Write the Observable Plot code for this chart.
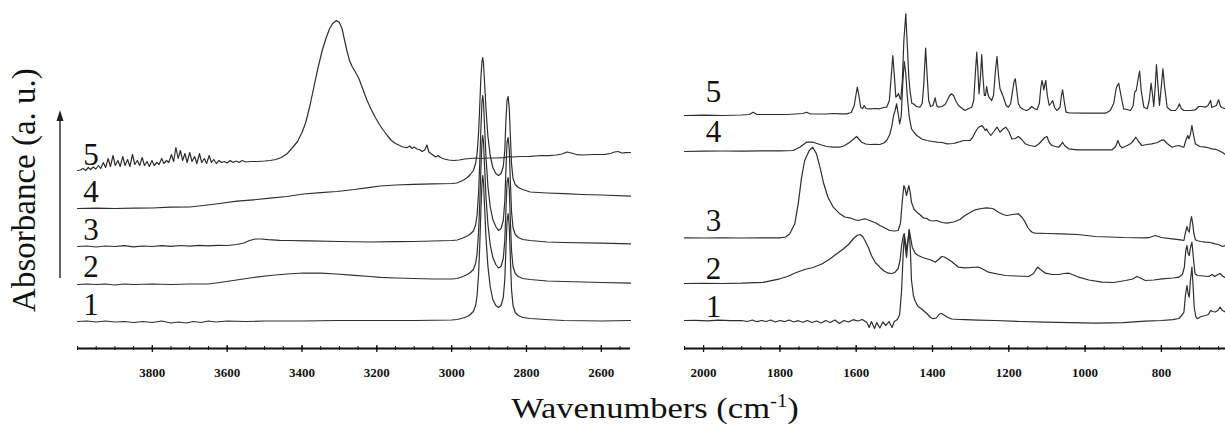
<!DOCTYPE html>
<html>
<head>
<meta charset="utf-8">
<script src="https://cdn.jsdelivr.net/npm/d3@7"></script>
<script src="https://cdn.jsdelivr.net/npm/@observablehq/plot@0.6"></script>
<style>
  html, body { margin: 0; padding: 0; background: #fff; }
  #wrap { position: relative; width: 1225px; height: 430px; overflow: hidden; background: #fff; font-family: "Liberation Serif", "Times New Roman", serif; }
  #left { position: absolute; left: 0; top: 0; }
  #right { position: absolute; left: 640px; top: 0; }
  #ylabel { position: absolute; left: -126px; top: 170px; width: 300px; height: 40px; line-height: 40px; text-align: center; font-size: 33px; color: #111; transform: rotate(-90deg); white-space: nowrap; }
  #xlabel { position: absolute; left: 455px; top: 390px; width: 400px; height: 36px; line-height: 36px; text-align: center; font-size: 30px; color: #111; transform: scaleX(1.15); white-space: nowrap; }
  #xlabel sup { font-size: 0.6em; vertical-align: 0.62em; line-height: 0; }
  #arrow { position: absolute; left: 0; top: 0; }
  svg text { font-family: "Liberation Serif", "Times New Roman", serif; }
</style>
</head>
<body>
<div id="wrap">
  <div id="left"></div>
  <div id="right"></div>
  <div id="ylabel">Absorbance (a. u.)</div>
  <svg id="arrow" width="80" height="300"><line x1="60" y1="278" x2="60" y2="118" stroke="#222" stroke-width="1.4"/><polygon points="60,110 56.5,121 63.5,121" fill="#222"/></svg>
  <div id="xlabel">Wavenumbers (cm<sup>-1</sup>)</div>
</div>
<script>
// ---------- spectrum labels and offsets ----------
const seriesNames = ["1", "2", "3", "4", "5"];
const leftOffsets = [0.27, 0.64, 1.02, 1.40, 1.78];
const rightOffsets = [0.28, 0.65, 1.10, 1.97, 2.33];
const leftLabelY = [0.337, 0.713, 1.09, 1.463, 1.84];
const rightLabelY = [0.32, 0.697, 1.18, 2.063, 2.463];
const leftLabelWn = 3964;
const rightLabelWn = 1974;

// ---------- tick labels ----------
const leftTickLabels = [3800, 3600, 3400, 3200, 3000, 2800, 2600];
const rightTickLabels = [2000, 1800, 1600, 1400, 1200, 1000, 800];

// ---------- left panel spectra (4000 - 2520 cm-1), [wavenumber, absorbance above baseline] ----------
const left1 = [[4000,0],[3975,0.005],[3950,-0.005],[3925,0.005],[3900,-0.005],[3875,0],[3850,-0.01],[3825,0],[3800,-0.01],[3775,0.005],[3750,-0.015],[3730,-0.005],[3710,-0.015],[3690,0],[3670,-0.01],[3650,0.005],[3630,-0.005],[3600,0.005],[3550,0],[3500,0.005],[3400,0.005],[3300,0.01],[3200,0.01],[3100,0.01],[3000,0.015],[2985,0.02],[2970,0.035],[2958,0.05],[2950,0.07],[2942,0.1],[2936,0.16],[2932,0.26],[2928,0.48],[2925,0.75],[2922,1.1],[2919,1.38],[2917,1.46],[2915,1.4],[2912,1.15],[2908,0.82],[2903,0.55],[2897,0.35],[2890,0.22],[2882,0.16],[2875,0.14],[2868,0.16],[2862,0.24],[2858,0.42],[2855,0.72],[2852,1.0],[2849,1.08],[2846,0.95],[2843,0.62],[2840,0.32],[2836,0.16],[2830,0.09],[2822,0.06],[2810,0.04],[2790,0.03],[2750,0.02],[2700,0.01],[2600,0.005],[2522,0.01]];
const left2 = [[4000,0],[3975,0.005],[3950,0],[3925,0.005],[3900,-0.005],[3875,0.005],[3850,0],[3800,0.005],[3750,0],[3700,0.005],[3650,0.005],[3620,0.02],[3575,0.045],[3530,0.07],[3485,0.09],[3440,0.105],[3396,0.115],[3350,0.113],[3307,0.105],[3260,0.092],[3218,0.08],[3190,0.072],[3150,0.065],[3100,0.06],[3050,0.055],[3000,0.055],[2985,0.06],[2970,0.08],[2958,0.1],[2950,0.12],[2942,0.15],[2936,0.21],[2932,0.31],[2928,0.53],[2925,0.8],[2922,1.15],[2919,1.42],[2917,1.49],[2915,1.43],[2912,1.18],[2908,0.86],[2903,0.6],[2897,0.4],[2890,0.27],[2882,0.2],[2875,0.165],[2868,0.18],[2862,0.26],[2858,0.44],[2855,0.74],[2852,1.02],[2849,1.07],[2846,0.95],[2843,0.63],[2840,0.34],[2836,0.18],[2830,0.11],[2822,0.08],[2810,0.06],[2790,0.05],[2745,0.035],[2700,0.03],[2600,0.02],[2522,0.013]];
const left3 = [[4000,0],[3975,0.005],[3950,-0.005],[3925,0.005],[3900,0],[3875,0.008],[3850,-0.003],[3825,0.005],[3800,0],[3775,0.008],[3750,0.002],[3725,0.01],[3700,0.004],[3675,0.012],[3650,0.006],[3625,0.012],[3600,0.01],[3575,0.02],[3555,0.035],[3540,0.06],[3525,0.075],[3510,0.075],[3490,0.068],[3460,0.062],[3440,0.06],[3380,0.056],[3300,0.05],[3218,0.045],[3150,0.048],[3100,0.05],[3050,0.055],[3000,0.06],[2985,0.065],[2970,0.085],[2958,0.105],[2950,0.125],[2942,0.155],[2936,0.215],[2932,0.315],[2928,0.54],[2925,0.82],[2922,1.17],[2919,1.44],[2917,1.51],[2915,1.45],[2912,1.2],[2908,0.88],[2903,0.6],[2897,0.4],[2890,0.27],[2882,0.2],[2875,0.16],[2868,0.18],[2862,0.26],[2858,0.45],[2855,0.76],[2852,1.04],[2849,1.09],[2846,0.97],[2843,0.64],[2840,0.35],[2836,0.19],[2830,0.12],[2822,0.09],[2810,0.07],[2790,0.06],[2745,0.045],[2700,0.04],[2600,0.033],[2522,0.027]];
const left4 = [[4000,0],[3950,0.003],[3900,0],[3850,0.003],[3800,0.005],[3752,0.013],[3700,0.015],[3664,0.03],[3620,0.05],[3574,0.073],[3530,0.087],[3485,0.103],[3440,0.12],[3396,0.145],[3350,0.158],[3307,0.17],[3260,0.19],[3218,0.212],[3191,0.225],[3150,0.235],[3102,0.242],[3050,0.247],[3000,0.25],[2986,0.255],[2970,0.28],[2958,0.31],[2950,0.34],[2942,0.38],[2936,0.45],[2932,0.55],[2928,0.76],[2925,1.02],[2922,1.3],[2919,1.47],[2917,1.51],[2915,1.46],[2912,1.26],[2908,0.98],[2903,0.72],[2897,0.53],[2890,0.41],[2882,0.35],[2875,0.33],[2868,0.35],[2862,0.42],[2858,0.58],[2855,0.88],[2852,1.08],[2849,1.12],[2846,1.0],[2843,0.72],[2840,0.45],[2836,0.3],[2830,0.24],[2822,0.21],[2810,0.19],[2790,0.165],[2745,0.155],[2700,0.148],[2650,0.14],[2600,0.135],[2522,0.123]];
const left5 = [[4000,0],[3992,0.005],[3985,0.02],[3978,0],[3971,0.03],[3965,0.01],[3958,0.035],[3951,0.015],[3944,0.05],[3938,0.02],[3931,0.08],[3925,0.03],[3918,0.12],[3912,0.04],[3905,0.15],[3899,0.05],[3892,0.1],[3886,0.04],[3879,0.14],[3873,0.05],[3866,0.11],[3860,0.04],[3853,0.16],[3847,0.06],[3840,0.1],[3834,0.05],[3827,0.13],[3821,0.05],[3814,0.09],[3808,0.04],[3801,0.1],[3795,0.05],[3788,0.08],[3782,0.06],[3775,0.12],[3769,0.07],[3762,0.1],[3756,0.08],[3749,0.16],[3743,0.09],[3737,0.23],[3731,0.12],[3725,0.2],[3719,0.1],[3713,0.17],[3707,0.08],[3700,0.18],[3694,0.09],[3687,0.14],[3681,0.07],[3674,0.17],[3668,0.08],[3661,0.12],[3655,0.07],[3648,0.15],[3642,0.08],[3636,0.11],[3629,0.07],[3622,0.1],[3615,0.08],[3608,0.09],[3600,0.075],[3592,0.1],[3584,0.08],[3576,0.095],[3568,0.08],[3560,0.1],[3550,0.085],[3535,0.09],[3520,0.09],[3500,0.095],[3485,0.1],[3470,0.11],[3455,0.13],[3440,0.167],[3425,0.23],[3412,0.29],[3400,0.38],[3390,0.48],[3378,0.66],[3368,0.84],[3357,1.03],[3346,1.2],[3335,1.33],[3326,1.42],[3318,1.47],[3308,1.5],[3300,1.48],[3293,1.42],[3286,1.3],[3280,1.2],[3273,1.1],[3266,1.04],[3258,0.99],[3248,0.92],[3237,0.81],[3226,0.7],[3215,0.61],[3204,0.53],[3193,0.46],[3182,0.4],[3171,0.345],[3161,0.3],[3150,0.27],[3139,0.25],[3130,0.235],[3120,0.228],[3112,0.245],[3106,0.22],[3100,0.235],[3093,0.215],[3086,0.21],[3079,0.19],[3072,0.205],[3066,0.255],[3061,0.185],[3052,0.16],[3043,0.135],[3036,0.15],[3030,0.13],[3020,0.115],[3008,0.105],[2995,0.1],[2980,0.105],[2965,0.115],[2950,0.12],[2935,0.125],[2920,0.12],[2900,0.125],[2880,0.125],[2860,0.128],[2845,0.14],[2835,0.135],[2820,0.14],[2790,0.142],[2760,0.15],[2740,0.148],[2720,0.155],[2705,0.165],[2692,0.185],[2680,0.175],[2665,0.158],[2650,0.155],[2620,0.16],[2590,0.162],[2575,0.17],[2565,0.185],[2555,0.19],[2545,0.175],[2535,0.178],[2522,0.18]];

// ---------- right panel spectra (2050 - 632 cm-1) ----------
const right1 = [[2050,0],[2020,0.002],[1990,-0.003],[1960,0.003],[1930,-0.002],[1900,0],[1885,-0.01],[1872,0.005],[1860,-0.012],[1848,0],[1836,-0.01],[1824,0.005],[1812,-0.015],[1800,0],[1788,-0.012],[1776,0.005],[1764,-0.015],[1752,-0.002],[1740,-0.018],[1728,0],[1716,-0.02],[1704,-0.005],[1692,-0.025],[1680,0],[1668,-0.02],[1656,0.005],[1644,-0.03],[1632,0],[1620,-0.015],[1608,0.008],[1596,-0.005],[1584,0.01],[1572,-0.02],[1566,-0.07],[1560,-0.01],[1552,-0.08],[1546,-0.02],[1538,-0.075],[1530,-0.015],[1522,-0.05],[1514,-0.01],[1506,-0.07],[1500,-0.01],[1492,0.01],[1486,0.06],[1481,0.3],[1477,0.65],[1474,0.85],[1471,0.72],[1468,0.63],[1465,0.75],[1461,0.91],[1458,0.7],[1455,0.4],[1450,0.25],[1446,0.2],[1438,0.14],[1430,0.12],[1424,0.1],[1415,0.07],[1405,0.03],[1398,0.018],[1390,0.025],[1382,0.065],[1376,0.07],[1370,0.055],[1362,0.035],[1350,0.015],[1330,0.01],[1315,0.008],[1280,0.003],[1236,0],[1170,-0.01],[1104,-0.017],[1040,-0.022],[973,-0.027],[900,-0.022],[842,-0.007],[800,0],[770,0.008],[754,0.02],[745,0.06],[741,0.083],[737,0.25],[733,0.35],[730,0.27],[727,0.233],[724,0.4],[720,0.533],[717,0.35],[714,0.13],[710,0.04],[706,0.018],[696,0.04],[685,0.05],[677,0.06],[671,0.1],[666,0.09],[659,0.085],[652,0.1],[646,0.133],[640,0.1],[632,0.085]];
const right2 = [[2050,0],[2000,0.002],[1950,0],[1900,0.003],[1844,0.012],[1800,0.047],[1780,0.07],[1757,0.11],[1735,0.14],[1713,0.16],[1690,0.195],[1669,0.245],[1650,0.3],[1634,0.345],[1620,0.39],[1608,0.445],[1598,0.48],[1590,0.49],[1583,0.47],[1577,0.43],[1568,0.36],[1560,0.28],[1550,0.21],[1538,0.163],[1527,0.125],[1516,0.103],[1506,0.1],[1498,0.113],[1490,0.15],[1485,0.23],[1481,0.38],[1477,0.47],[1474,0.5],[1471,0.42],[1468,0.33],[1464,0.45],[1461,0.537],[1457,0.45],[1453,0.363],[1445,0.3],[1437,0.28],[1426,0.26],[1415,0.247],[1404,0.235],[1393,0.213],[1384,0.24],[1376,0.27],[1369,0.265],[1362,0.25],[1350,0.22],[1332,0.163],[1315,0.157],[1298,0.16],[1285,0.163],[1280,0.165],[1270,0.147],[1253,0.113],[1230,0.095],[1209,0.08],[1180,0.075],[1148,0.07],[1135,0.1],[1128,0.145],[1124,0.163],[1117,0.14],[1104,0.103],[1086,0.09],[1069,0.09],[1055,0.1],[1043,0.103],[1030,0.085],[1017,0.063],[990,0.035],[956,0.013],[925,0.01],[894,0.03],[875,0.045],[864,0.07],[855,0.055],[842,0.03],[820,0.035],[798,0.047],[770,0.055],[754,0.063],[745,0.09],[740,0.16],[736,0.33],[733,0.38],[730,0.3],[727,0.28],[724,0.36],[720,0.413],[716,0.25],[712,0.1],[706,0.08],[690,0.075],[676,0.07],[667,0.09],[660,0.07],[654,0.085],[646,0.1],[640,0.075],[632,0.057]];
const right3 = [[2050,0.007],[2000,0.005],[1950,0.007],[1900,0.005],[1850,0.007],[1800,0.007],[1785,0.015],[1774,0.047],[1761,0.147],[1752,0.347],[1743,0.613],[1735,0.78],[1723,0.88],[1714,0.913],[1704,0.847],[1695,0.713],[1685,0.547],[1674,0.413],[1660,0.313],[1643,0.247],[1630,0.215],[1617,0.207],[1605,0.19],[1595,0.18],[1585,0.19],[1577,0.197],[1568,0.185],[1560,0.173],[1548,0.155],[1538,0.13],[1525,0.105],[1512,0.08],[1500,0.075],[1490,0.08],[1484,0.15],[1479,0.38],[1475,0.53],[1472,0.5],[1468,0.43],[1465,0.48],[1462,0.53],[1458,0.45],[1455,0.363],[1448,0.29],[1441,0.263],[1432,0.235],[1424,0.207],[1415,0.2],[1407,0.18],[1398,0.175],[1389,0.18],[1375,0.16],[1362,0.153],[1345,0.165],[1328,0.19],[1315,0.23],[1300,0.262],[1288,0.287],[1272,0.3],[1258,0.307],[1242,0.3],[1227,0.263],[1215,0.24],[1205,0.23],[1190,0.24],[1175,0.247],[1165,0.21],[1157,0.163],[1150,0.11],[1144,0.08],[1138,0.06],[1131,0.053],[1100,0.05],[1061,0.047],[1020,0.04],[973,0.02],[900,0.01],[842,0.007],[830,0.012],[816,0.03],[800,0.01],[772,-0.003],[750,-0.013],[741,-0.02],[737,0.06],[733,0.12],[730,0.08],[727,0.063],[724,0.16],[721,0.22],[718,0.15],[715,0.05],[711,-0.01],[708,-0.02],[697,-0.03],[685,-0.037],[672,-0.04],[659,-0.053],[650,-0.06],[640,-0.08],[632,-0.07]];
const right4 = [[2050,0],[2000,0.003],[1950,0.005],[1900,0.003],[1850,0.007],[1800,0.007],[1765,0.01],[1748,0.043],[1730,0.093],[1713,0.093],[1695,0.07],[1678,0.05],[1660,0.043],[1643,0.043],[1630,0.06],[1617,0.093],[1605,0.13],[1599,0.15],[1592,0.12],[1586,0.093],[1575,0.075],[1564,0.07],[1550,0.072],[1538,0.07],[1528,0.085],[1520,0.11],[1512,0.17],[1507,0.243],[1502,0.36],[1498,0.41],[1494,0.477],[1490,0.38],[1486,0.277],[1482,0.35],[1478,0.677],[1474,0.9],[1470,0.78],[1466,0.55],[1461,0.35],[1455,0.227],[1448,0.19],[1441,0.16],[1428,0.125],[1415,0.11],[1400,0.1],[1389,0.093],[1375,0.09],[1362,0.077],[1345,0.08],[1332,0.093],[1319,0.11],[1302,0.11],[1295,0.14],[1288,0.193],[1280,0.24],[1271,0.26],[1266,0.24],[1262,0.21],[1258,0.225],[1255,0.2],[1247,0.16],[1239,0.2],[1231,0.243],[1227,0.22],[1223,0.193],[1215,0.225],[1208,0.243],[1200,0.2],[1192,0.127],[1183,0.13],[1175,0.15],[1166,0.12],[1157,0.077],[1145,0.06],[1131,0.05],[1120,0.08],[1113,0.11],[1106,0.14],[1100,0.15],[1094,0.09],[1087,0.06],[1078,0.05],[1069,0.043],[1063,0.07],[1059,0.093],[1054,0.06],[1043,0.027],[1020,0.017],[990,0.017],[960,0.017],[929,0.017],[920,0.05],[914,0.11],[909,0.06],[903,0.037],[890,0.06],[881,0.077],[873,0.11],[867,0.143],[860,0.1],[851,0.06],[838,0.07],[825,0.077],[810,0.09],[800,0.113],[794,0.117],[785,0.08],[772,0.043],[762,0.055],[754,0.06],[745,0.045],[741,0.043],[737,0.1],[731,0.16],[728,0.127],[724,0.17],[720,0.26],[716,0.17],[711,0.077],[700,0.05],[685,0.043],[675,0.035],[667,0.027],[658,0.022],[650,0.01],[640,-0.01],[632,-0.03]];
const right5 = [[2050,0],[2000,0.003],[1950,0],[1900,0.005],[1880,0.01],[1870,0.033],[1860,0.01],[1820,0.01],[1780,0.01],[1740,0.02],[1730,0.033],[1720,0.015],[1680,0.015],[1660,0.02],[1640,0.017],[1625,0.017],[1613,0.03],[1605,0.1],[1600,0.22],[1597,0.283],[1593,0.2],[1588,0.08],[1583,0.07],[1579,0.1],[1574,0.07],[1564,0.067],[1550,0.07],[1538,0.067],[1528,0.08],[1520,0.083],[1513,0.15],[1508,0.4],[1504,0.6],[1500,0.4],[1496,0.183],[1492,0.2],[1489,0.22],[1486,0.18],[1483,0.16],[1479,0.35],[1475,0.75],[1470,1.017],[1466,0.7],[1462,0.38],[1459,0.25],[1454,0.12],[1450,0.117],[1442,0.09],[1433,0.083],[1427,0.12],[1423,0.3],[1418,0.673],[1414,0.4],[1410,0.15],[1405,0.09],[1399,0.1],[1393,0.177],[1389,0.1],[1385,0.083],[1375,0.09],[1367,0.11],[1360,0.16],[1355,0.2],[1350,0.217],[1345,0.2],[1338,0.14],[1332,0.1],[1322,0.07],[1315,0.05],[1305,0.07],[1297,0.083],[1292,0.15],[1288,0.4],[1284,0.633],[1281,0.45],[1278,0.217],[1274,0.4],[1271,0.61],[1268,0.4],[1264,0.2],[1261,0.2],[1258,0.29],[1255,0.22],[1252,0.183],[1245,0.15],[1240,0.2],[1235,0.45],[1231,0.59],[1227,0.4],[1223,0.267],[1219,0.23],[1214,0.183],[1207,0.1],[1201,0.083],[1195,0.12],[1190,0.25],[1186,0.34],[1183,0.367],[1179,0.25],[1175,0.12],[1170,0.083],[1162,0.06],[1153,0.05],[1146,0.065],[1140,0.09],[1133,0.07],[1126,0.057],[1120,0.12],[1116,0.28],[1113,0.35],[1110,0.3],[1108,0.257],[1105,0.32],[1103,0.35],[1099,0.2],[1094,0.1],[1090,0.12],[1085,0.15],[1080,0.08],[1074,0.05],[1066,0.08],[1062,0.2],[1059,0.257],[1055,0.15],[1050,0.033],[1040,0.025],[1000,0.023],[960,0.023],[946,0.023],[934,0.05],[925,0.12],[918,0.28],[912,0.323],[906,0.2],[899,0.067],[890,0.06],[881,0.05],[874,0.1],[870,0.233],[866,0.25],[861,0.367],[857,0.443],[853,0.25],[846,0.083],[837,0.067],[832,0.15],[827,0.323],[823,0.2],[820,0.09],[816,0.3],[813,0.51],[809,0.3],[805,0.1],[800,0.3],[796,0.467],[792,0.3],[785,0.083],[775,0.05],[763,0.05],[757,0.08],[753,0.117],[748,0.07],[741,0.05],[725,0.05],[711,0.057],[702,0.09],[694,0.09],[685,0.083],[678,0.1],[671,0.15],[668,0.08],[662,0.09],[656,0.1],[650,0.157],[645,0.09],[640,0.077],[632,0.067]];

const leftSeries = [left1, left2, left3, left4, left5];
const rightSeries = [right1, right2, right3, right4, right5];

const serif = "'Liberation Serif', 'Times New Roman', serif";

function panel({width, marginLeft, marginRight, domain, series, offsets, labelY, labelWn, tickLabels, minorStep}) {
  const rows = [];
  series.forEach((s, i) => s.forEach(([wn, a]) => rows.push({wn, a: a + offsets[i], name: seriesNames[i]})));
  const labels = seriesNames.map((n, i) => ({name: n, wn: labelWn, a: labelY[i]}));
  const minor = d3.range(domain[0], domain[1] - 1, -minorStep);
  return Plot.plot({
    width, height: 390,
    marginTop: 0, marginBottom: 42, marginLeft, marginRight,
    style: {fontFamily: serif, background: "transparent", overflow: "visible"},
    x: {domain, axis: null},
    y: {domain: [0, 3.48], axis: null},
    marks: [
      Plot.line(rows, {x: "wn", y: "a", z: "name", stroke: "#2e2e2e", strokeWidth: 1.2, curve: "linear"}),
      Plot.ruleY([0], {stroke: "#111", strokeWidth: 2}),
      Plot.axisX({ticks: minor, tickSize: 4, dy: -2, fill: "none", stroke: "#111", label: null}),
      Plot.axisX({ticks: tickLabels, tickSize: 7, dy: -3, fill: "none", stroke: "#111", strokeWidth: 1.3, label: null}),
      Plot.axisX({ticks: tickLabels, tickSize: 0, tickPadding: 19, stroke: "none", fill: "#111", fontSize: 13, fontWeight: "bold", fontFamily: serif, tickFormat: d => String(d), label: null}),
      Plot.text(labels, {x: "wn", y: "a", text: "name", lineAnchor: "bottom", textAnchor: "middle", fontSize: 31, fontFamily: serif, fill: "#111"})
    ]
  });
}

document.getElementById("left").append(panel({
  width: 640, marginLeft: 77, marginRight: 10, domain: [4000, 2522],
  series: leftSeries, offsets: leftOffsets, labelY: leftLabelY, labelWn: leftLabelWn,
  tickLabels: leftTickLabels, minorStep: 50
}));
document.getElementById("right").append(panel({
  width: 585, marginLeft: 44, marginRight: 0, domain: [2050, 632],
  series: rightSeries, offsets: rightOffsets, labelY: rightLabelY, labelWn: rightLabelWn,
  tickLabels: rightTickLabels, minorStep: 50
}));
</script>
</body>
</html>
